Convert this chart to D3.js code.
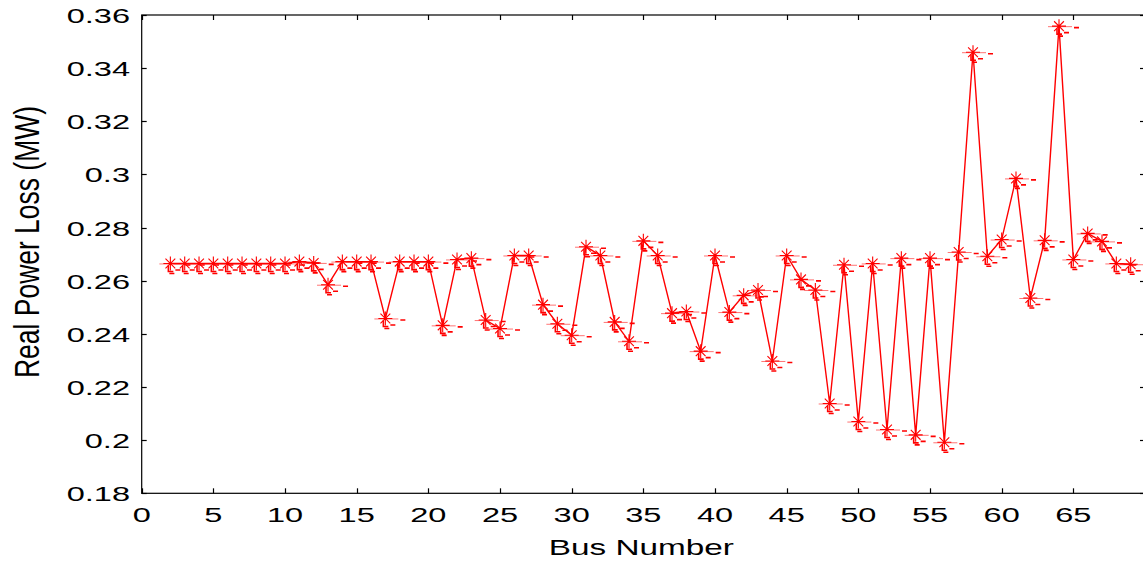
<!DOCTYPE html>
<html>
<head>
<meta charset="utf-8">
<script src="https://cdn.jsdelivr.net/npm/d3@7"></script>
<style>
  html, body { margin: 0; padding: 0; background: #fff; }
  svg { display: block; }
  text { font-family: Arial, "Liberation Sans", sans-serif; fill: #000; }
</style>
</head>
<body>
<svg id="chart" width="1143" height="562"></svg>
<script>
// ---- data ----
const buses = d3.range(2, 70); // bus numbers 2..69
const powerLoss = [
  0.2665, 0.2665, 0.2665, 0.2665, 0.2665, 0.2665, 0.2665, 0.2665, 0.2665, // 2-10
  0.2672, 0.2667, 0.2585, 0.2672, 0.2672, 0.2672, 0.2458, 0.2672, 0.2672, // 11-19
  0.2672, 0.2432, 0.2680, 0.2685, 0.2452, 0.2420, 0.2695, 0.2695, 0.2510, // 20-28
  0.2438, 0.2395, 0.2728, 0.2695, 0.2445, 0.2372, 0.2750, 0.2695, 0.2478, // 29-37
  0.2484, 0.2335, 0.2695, 0.2482, 0.2545, 0.2565, 0.2298, 0.2695, 0.2605, // 38-46
  0.2565, 0.2138, 0.2660, 0.2070, 0.2665, 0.2040, 0.2685, 0.2020, 0.2685, // 47-55
  0.1992, 0.2708, 0.3460, 0.2692, 0.2755, 0.2985, 0.2535, 0.2752, 0.3558, // 56-64
  0.2680, 0.2778, 0.2748, 0.2665, 0.2662                                  // 65-69
];
const xTicks = [0, 5, 10, 15, 20, 25, 30, 35, 40, 45, 50, 55, 60, 65];
const yTicks = [0.18, 0.2, 0.22, 0.24, 0.26, 0.28, 0.3, 0.32, 0.34, 0.36];
const xLabel = "Bus Number";
const yLabel = "Real Power Loss (MW)";

(function () {
// ---- layout ----
const svg = d3.select("#chart");
const L = 141.7, R = 1145, T = 15, B = 493.3;
const x = d3.scaleLinear().domain([0, 70]).range([L, R]);
const y = d3.scaleLinear().domain([0.18, 0.36]).range([B, T]);
const SX = 1.55; // horizontal stretch of text in the reference

// box
svg.append("rect").attr("x", L).attr("y", T)
  .attr("width", R - L).attr("height", B - T)
  .attr("fill", "none").attr("stroke", "#000").attr("stroke-width", 1.2);

const tl = 5;
const ticks = svg.append("g").attr("stroke", "#000").attr("stroke-width", 1.2);
xTicks.forEach(t => {
  const xx = Math.round(x(t)) + 0.5;
  ticks.append("line").attr("x1", xx).attr("x2", xx).attr("y1", B).attr("y2", B - tl);
  ticks.append("line").attr("x1", xx).attr("x2", xx).attr("y1", T).attr("y2", T + tl);
});
yTicks.forEach(t => {
  const yy = Math.round(y(t)) + 0.5;
  ticks.append("line").attr("x1", L).attr("x2", L + tl).attr("y1", yy).attr("y2", yy);
  ticks.append("line").attr("x1", R).attr("x2", R - tl).attr("y1", yy).attr("y2", yy);
});

// tick labels
const fmt = v => String(+v.toFixed(2));
const tickFont = 21;
svg.append("g").selectAll("text").data(xTicks).join("text")
  .attr("transform", d => `translate(${x(d)},522) scale(${SX},1)`)
  .attr("text-anchor", "middle").attr("font-size", tickFont)
  .text(d => d);
svg.append("g").selectAll("text").data(yTicks).join("text")
  .attr("transform", d => `translate(130,${y(d) + 8}) scale(${SX},1)`)
  .attr("text-anchor", "end").attr("font-size", tickFont)
  .text(fmt);

// axis titles
svg.append("text")
  .attr("transform", `translate(${(L + R) / 2 - 2},555) scale(${SX},1)`)
  .attr("text-anchor", "middle").attr("font-size", 21.5)
  .text(xLabel);
svg.append("text")
  .attr("transform", `translate(38.5,242) scale(1.3,1) rotate(-90)`)
  .attr("text-anchor", "middle").attr("font-size", 26.5)
  .attr("textLength", 272).attr("lengthAdjust", "spacingAndGlyphs")
  .text(yLabel);

// line
const pts = buses.map((b, i) => ({ b, v: powerLoss[i] }));
svg.append("path").datum(pts)
  .attr("fill", "none").attr("stroke", "#ff0000").attr("stroke-width", 1.4)
  .attr("d", d3.line().x(d => x(d.b)).y(d => y(d.v)));

// markers (asterisk with the small rendering artefacts of the reference)
const mk = svg.append("g").attr("stroke", "#ff0000").attr("fill", "none");
pts.forEach(d => {
  const cx = x(d.b), cy = y(d.v), r = 7;
  const g = mk.append("g").attr("transform", `translate(${cx},${cy})`);
  g.append("path").attr("stroke-width", 1.1)
    .attr("d", `M${-r},0H${r}M0,${-r}V${r}M${-r*0.7},${-r*0.7}L${r*0.7},${r*0.7}M${-r*0.7},${r*0.7}L${r*0.7},${-r*0.7}`);
  g.append("path").attr("stroke-width", 1).attr("stroke-opacity", 0.55)
    .attr("d", `M-11,0.5H13`);
  g.append("path").attr("stroke-width", 1.6)
    .attr("d", `M15,1.5H20M-2,2V8H3M5,6.5H10M-1,10H4`);
});
})();
</script>
</body>
</html>
